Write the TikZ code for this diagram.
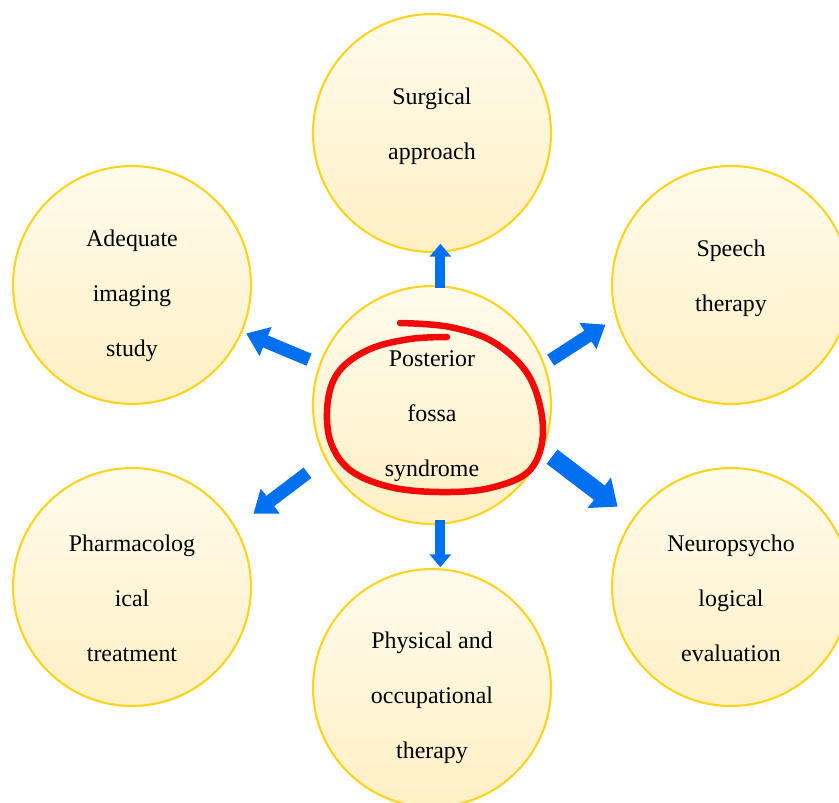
\documentclass[tikz,border=0pt]{standalone}
\usepackage{fontspec}
\setmainfont{Liberation Serif}
\usepackage{tikz}
\usetikzlibrary{arrows.meta}

\definecolor{ringgold}{RGB}{255,212,30}
\definecolor{creamtop}{RGB}{255,251,236}
\definecolor{creambot}{RGB}{255,240,196}
\definecolor{arrowblue}{RGB}{0,112,240}
\definecolor{loopred}{RGB}{240,10,10}

\tikzset{
  bubble/.style={circle, draw=ringgold, line width=1.2pt, top color=creamtop,
    bottom color=creambot, minimum size=4.76cm, inner sep=0pt},
  txt/.style={align=center, inner sep=0pt, font={\fontsize{13.6pt}{31.3pt}\selectfont}},
  thinarrow/.style={draw=arrowblue, line width=0.2cm,
    -{Triangle[length=0.26cm,width=0.42cm]}},
  sidearrow/.style={draw=arrowblue, line width=0.26cm,
    -{Triangle[length=0.42cm,width=0.6cm]}},
  widearrow/.style={draw=arrowblue, line width=0.36cm,
    -{Triangle[length=0.46cm,width=0.74cm]}}
}

\begin{document}
\begin{tikzpicture}[x=0.02cm,y=-0.02cm]
\clip (0,0) rectangle (839,802);
% circles
\node[bubble, label={[txt,yshift=-0.22cm]center:Posterior\\fossa\\syndrome}] (pfs) at (432,405) {};
\node[bubble, label={[txt,yshift=0.14cm]center:Surgical\\approach}] (surgical) at (432,133) {};
\node[bubble, label={[txt,yshift=-0.22cm]center:Adequate\\imaging\\study}] (imaging) at (132,285) {};
\node[bubble, label={[txt,yshift=0.14cm]center:Speech\\therapy}] (speech) at (731,285) {};
\node[bubble, label={[txt,yshift=-0.22cm]center:Pharmacolog\\ical\\treatment}] (pharma) at (132,587) {};
\node[bubble, label={[txt,yshift=-0.22cm]center:Neuropsycho\\logical\\evaluation}] (neuro) at (731,587) {};
\node[bubble, label={[txt,yshift=-0.2cm]center:Physical and\\occupational\\therapy}] (physical) at (432,688) {};
% arrows
\draw[thinarrow, shorten <=-0.06cm, shorten >=-0.18cm] (pfs.86) -- (surgical.274);
\draw[thinarrow, shorten <=-0.1cm, shorten >=0.02cm] (pfs.274) -- (physical.86);
\draw[sidearrow, shorten <=0.22cm, shorten >=0.08cm] (pfs.160) -- (imaging.337.5);
\draw[sidearrow, shorten <=0.14cm, shorten >=0.24cm] (pfs.20) -- (speech.196.5);
\draw[sidearrow, shorten <=0.44cm, shorten >=0.44cm] (pfs.207) -- (pharma.30);
\draw[widearrow, shorten <=0.22cm, shorten >=0.38cm] (pfs.-22.5) -- (neuro.145);
% hand drawn loop
\draw[loopred, line width=0.13cm, line cap=round] plot[smooth, tension=0.6] coordinates
  {(400,323) (450,327) (495,343) (530,378) (543,430) (530,470) (490,488) (440,492)
   (390,487) (350,470) (330,440) (328,400) (340,370) (370,349) (410,339) (447,337)};
\end{tikzpicture}
\end{document}
